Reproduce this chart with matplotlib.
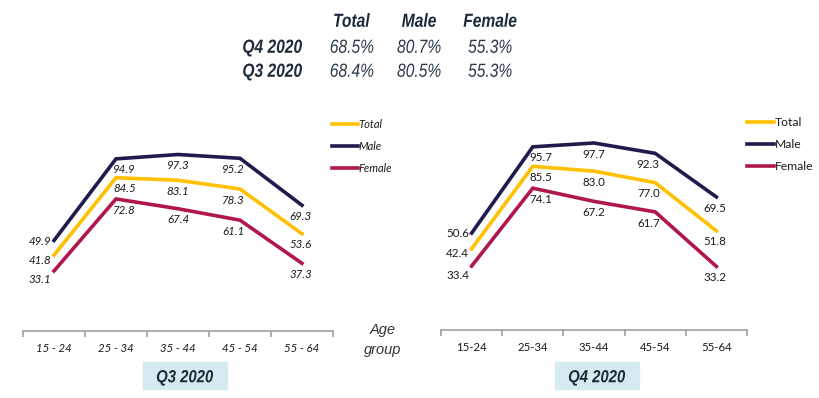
import matplotlib.pyplot as plt
from matplotlib.textpath import TextPath
from matplotlib.patches import PathPatch
from matplotlib.font_manager import FontProperties
from matplotlib.transforms import Affine2D, IdentityTransform

# data
ages_q3 = ['15 - 24', '25 - 34', '35 - 44', '45 - 54', '55 - 64']
ages_q4 = ['15-24', '25-34', '35-44', '45-54', '55-64']
series = ['Total', 'Male', 'Female']

q3_total = [41.8, 84.5, 83.1, 78.3, 53.6]
q3_male = [49.9, 94.9, 97.3, 95.2, 69.3]
q3_female = [33.1, 72.8, 67.4, 61.1, 37.3]

q4_total = [42.4, 85.5, 83.0, 77.0, 51.8]
q4_male = [50.6, 95.7, 97.7, 92.3, 69.5]
q4_female = [33.4, 74.1, 67.2, 61.7, 33.2]

summary_rows = ['Q4 2020', 'Q3 2020']
summary_vals = [['68.5%', '80.7%', '55.3%'],
                ['68.4%', '80.5%', '55.3%']]

colors = {'Total': '#FFC000', 'Male': '#1F1B4D', 'Female': '#B0174B'}
txt_dark = '#1C2B3A'
label_font = 'Lato'

W, H = 819, 398
fig = plt.figure(figsize=(W / 100, H / 100), dpi=100)


def px_axes(x0, x1, y_bottom, y_top):
    return fig.add_axes([x0 / W, 1 - y_bottom / H, (x1 - x0) / W, (y_bottom - y_top) / H])


def narrow_text(x, y, s, size_px, ha='center', bold=False, color=txt_dark, squeeze=0.82):
    # condensed italic text (Arial Narrow look) drawn as a squeezed text path
    fp = FontProperties(family='Liberation Sans', style='italic', weight='bold' if bold else 'normal')
    tp = TextPath((0, 0), s, size=size_px, prop=fp)
    bb = tp.get_extents()
    w = bb.width * squeeze
    if ha == 'center':
        dx = x - bb.x0 * squeeze - w / 2
    elif ha == 'right':
        dx = x - bb.x0 * squeeze - w
    else:
        dx = x - bb.x0 * squeeze
    dy = (H - y) - size_px * 0.716 / 2
    tr = Affine2D().scale(squeeze, 1).translate(dx, dy)
    patch = PathPatch(tr.transform_path(tp), facecolor=color, edgecolor='none',
                      transform=IdentityTransform())
    fig.add_artist(patch)


def draw_panel(ax, cats, data, italic):
    style = 'italic' if italic else 'normal'
    xs = list(range(len(cats)))
    first_off = {'Male': -0.5, 'Total': -3.5, 'Female': -6.5}
    x_shift = [0, 6, 0, -5, -1]
    for name, vals in zip(series, data):
        ax.plot(xs, vals, color=colors[name], lw=2.6, solid_joinstyle='miter', label=name)
        for i, v in enumerate(vals):
            if i == 0:
                off = (-10, first_off[name])
            else:
                off = (x_shift[i], -8)
            ax.annotate(f'{v:.1f}', (i, v), xytext=off, textcoords='offset points',
                        ha='center', va='center', fontsize=8.3, style=style,
                        family=label_font, color='#1a1a1a')
    ax.set_xlim(-0.5, len(cats) - 0.5)
    ax.set_ylim(0, 100)
    for s in ['top', 'right', 'left']:
        ax.spines[s].set_visible(False)
    ax.spines['bottom'].set_color('#a0a0a0')
    ax.spines['bottom'].set_linewidth(1.2)
    ax.set_yticks([])
    ax.set_xticks([x - 0.5 for x in range(len(cats) + 1)])
    ax.set_xticklabels([])
    ax.set_xticks(xs, minor=True)
    ax.set_xticklabels(cats, minor=True, fontsize=8.2, style=style, family=label_font, color='#1a1a1a')
    ax.tick_params(axis='x', which='major', length=4, color='#a0a0a0', width=1.2)
    ax.tick_params(axis='x', which='minor', length=0, pad=8.5)
    ax.patch.set_alpha(0)


ax1 = px_axes(23, 333, 331, 149.6)
draw_panel(ax1, ages_q3, [q3_total, q3_male, q3_female], True)
ax2 = px_axes(441, 747, 330, 138.6)
draw_panel(ax2, ages_q4, [q4_total, q4_male, q4_female], False)

# legends
leg1 = ax1.legend(loc='upper left', bbox_to_anchor=(332 / W, 1 - 119 / H), bbox_transform=fig.transFigure,
                  frameon=False, handlelength=2.3, handletextpad=0.1, labelspacing=1.0,
                  borderaxespad=0, borderpad=0, prop={'family': label_font, 'style': 'italic', 'size': 8})
leg2 = ax2.legend(loc='upper left', bbox_to_anchor=(747 / W, 1 - 117 / H), bbox_transform=fig.transFigure,
                  frameon=False, handlelength=2.2, handletextpad=0.1, labelspacing=0.9,
                  borderaxespad=0, borderpad=0, prop={'family': label_font, 'size': 8.7})
for leg in (leg1, leg2):
    for t in leg.get_texts():
        t.set_color('#1a1a1a')

# Age group label
fig.text(383 / W, 1 - 330 / H, 'Age', ha='center', va='center', fontsize=10.5, style='italic',
         family='Liberation Sans', color='#333333')
fig.text(383 / W, 1 - 350 / H, 'group', ha='center', va='center', fontsize=10.5, style='italic',
         family='Liberation Sans', color='#333333')

# quarter boxes
for cx, name in [(185, 'Q3 2020'), (597, 'Q4 2020')]:
    fig.patches.append(plt.Rectangle(((cx - 42) / W, 1 - 389 / H), 84 / W, 27.5 / H,
                                     transform=fig.transFigure, color='#D4ECF0', zorder=0))
    narrow_text(cx, 376, name, 17.5, bold=True, squeeze=0.85)

# summary table
col_x = [352, 419, 490]
for x, name in zip(col_x, series):
    narrow_text(x, 20, name, 19, bold=True)
for r, (row, vals) in enumerate(zip(summary_rows, summary_vals)):
    y = 46 + 24 * r
    narrow_text(302, y, row, 19, ha='right', bold=True)
    for x, v in zip(col_x, vals):
        narrow_text(x, y, v, 19, color='#2B3A4A')

fig.savefig('out.png', dpi=100)
